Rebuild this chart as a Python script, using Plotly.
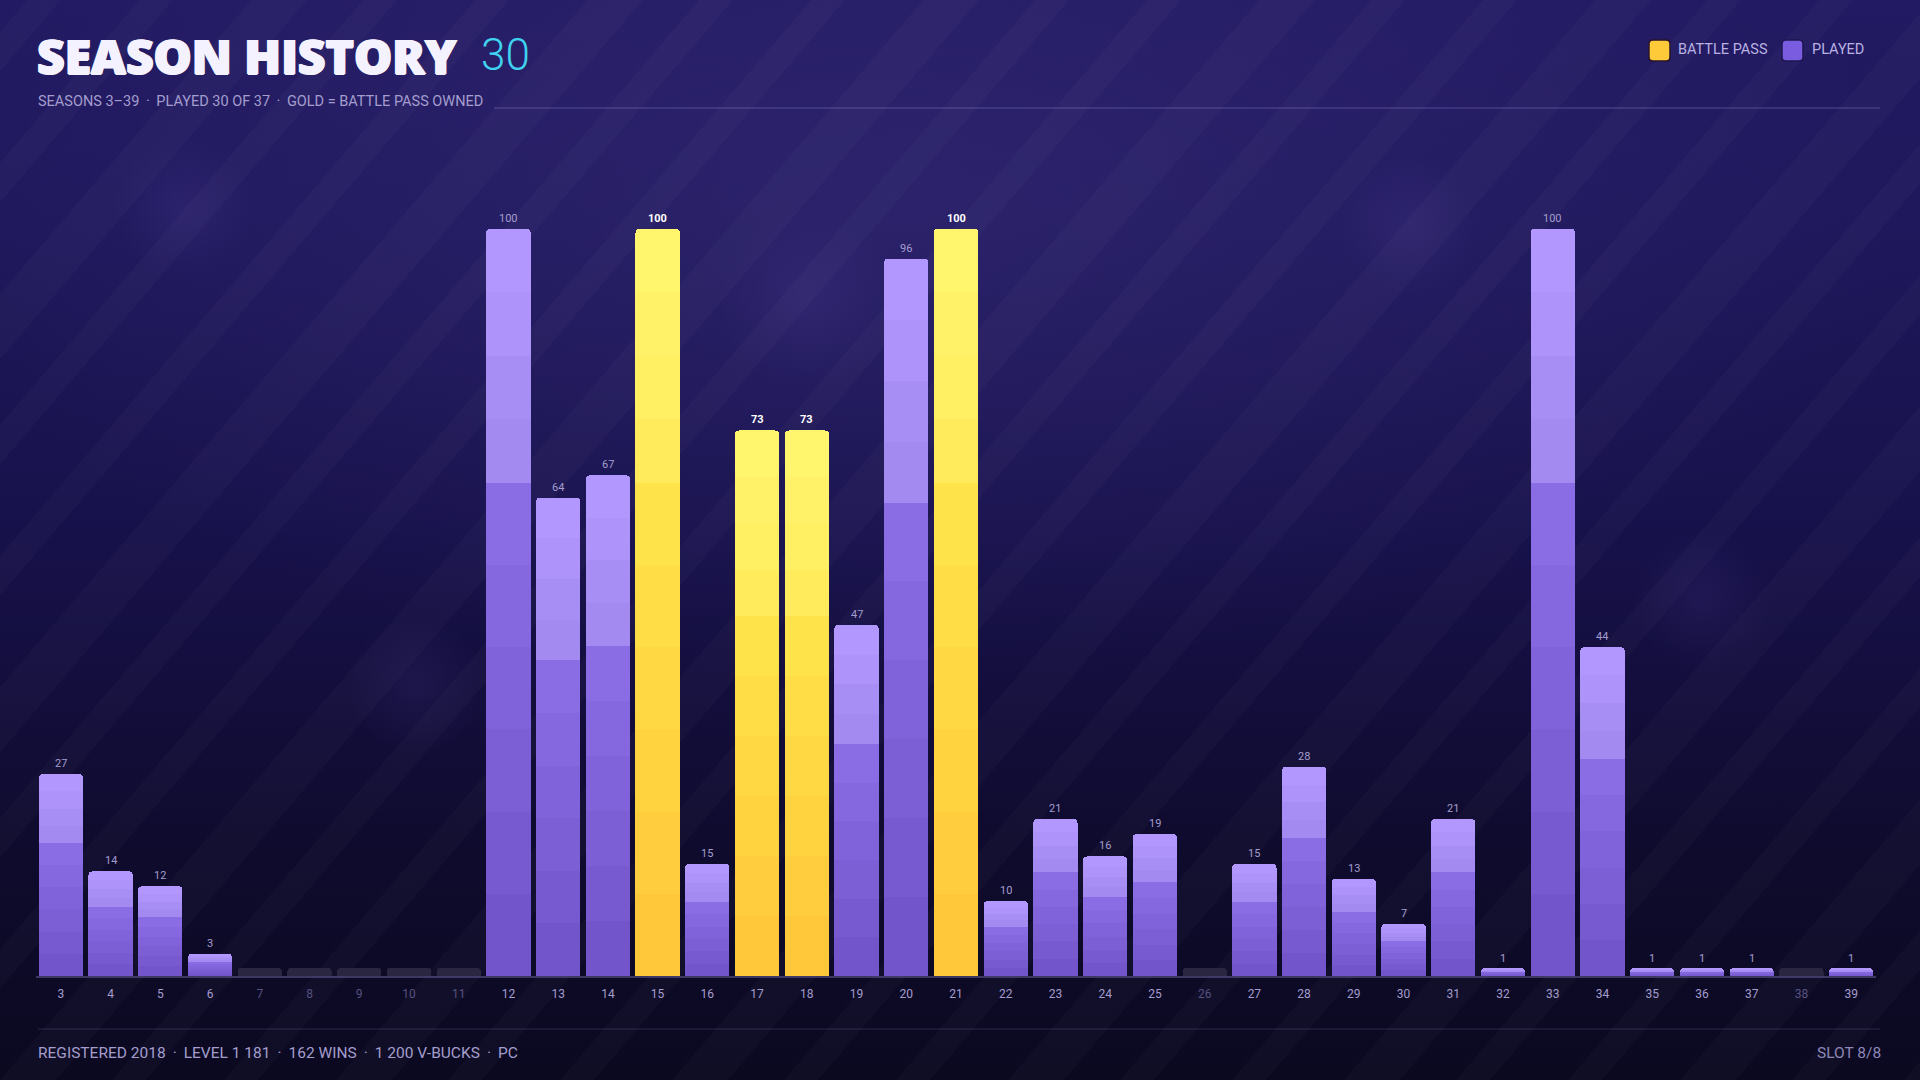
import math
import plotly.graph_objects as go

# ---------------- data ----------------
seasons = list(range(3, 40))
levels = [27, 14, 12, 3, 0, 0, 0, 0, 0, 100, 64, 67, 100, 15, 73, 73, 47, 96, 100,
          10, 21, 16, 19, 0, 15, 28, 13, 7, 21, 1, 100, 44, 1, 1, 1, 0, 1]
battle_pass_seasons = [15, 17, 18, 21]

SEP = "\u2009 · \u2009"
title_text = "SEASON HISTORY"
title_count = "30"
subtitle_text = SEP.join(["SEASONS 3–39", "PLAYED 30 OF 37", "GOLD = BATTLE PASS OWNED"])
footer_left = SEP.join(["REGISTERED 2018", "LEVEL 1 181", "162 WINS", "1 200 V-BUCKS", "PC"])
footer_right = "SLOT 8/8"
legend_labels = ["BATTLE PASS", "PLAYED"]

# ---------------- style ----------------
W, H = 1920, 1080
COND = "Roboto, 'Liberation Sans', sans-serif"
HEAVY = "'Open Sans', Lato, sans-serif"
LAV = "#a49dce"
DIM = "#575180"
STUB = 1.1  # visual height of an unplayed-season stub


def lerp(c1, c2, t):
    a = [int(c1[i:i + 2], 16) for i in (1, 3, 5)]
    b = [int(c2[i:i + 2], 16) for i in (1, 3, 5)]
    return "#" + "".join(f"{round(a[i] + (b[i] - a[i]) * t):02x}" for i in range(3))


# gradient segments: (fraction of bar height, colour) from bottom to top
seg_frac = [0.11] * 6 + [0.085] * 4
purple_cols = [lerp("#7255cb", "#8a6de5", i / 5) for i in range(6)] + \
              [lerp("#a28af0", "#b297ff", i / 3) for i in range(4)]
gold_cols = [lerp("#ffc73a", "#ffe34a", i / 5) for i in range(6)] + \
            [lerp("#ffeb5c", "#fff66e", i / 3) for i in range(4)]


def px(x):
    return x / W


def py(y):
    return 1 - y / H


def rounded_rect(x0, y0, x1, y1, r):
    # pixel coords (top-left origin) -> paper-space SVG path with rounded corners
    X = lambda v: f"{px(v):.5f}"
    Y = lambda v: f"{py(v):.5f}"
    return (f"M {X(x0 + r)},{Y(y0)} L {X(x1 - r)},{Y(y0)} Q {X(x1)},{Y(y0)} {X(x1)},{Y(y0 + r)} "
            f"L {X(x1)},{Y(y1 - r)} Q {X(x1)},{Y(y1)} {X(x1 - r)},{Y(y1)} "
            f"L {X(x0 + r)},{Y(y1)} Q {X(x0)},{Y(y1)} {X(x0)},{Y(y1 - r)} "
            f"L {X(x0)},{Y(y0 + r)} Q {X(x0)},{Y(y0)} {X(x0 + r)},{Y(y0)} Z")


fig = go.Figure()

# ---------------- background (subplot xy, full canvas) ----------------
bg = dict(xaxis="x", yaxis="y", hoverinfo="skip", showlegend=False, mode="lines",
          line=dict(width=0), fill="toself")
fig.add_trace(go.Scatter(x=[0, W, W, 0, 0], y=[0, 0, H, H, 0],
                         fillgradient=dict(type="vertical",
                                           colorscale=[[0, "#0b0920"], [0.22, "#0f0b2e"],
                                                       [0.5, "#17114a"], [0.8, "#1f185c"],
                                                       [1, "#221a62"]]),
                         **bg))


def ellipse(cx, cy, rx, ry, n=72):
    xs = [cx + rx * math.cos(2 * math.pi * i / n) for i in range(n + 1)]
    ys = [cy + ry * math.sin(2 * math.pi * i / n) for i in range(n + 1)]
    return xs, ys


ex, ey = ellipse(900, H - 200, 1000, 480)
fig.add_trace(go.Scatter(x=ex, y=ey,
                         fillgradient=dict(type="radial",
                                           colorscale=[[0, "rgba(62,50,130,0.40)"],
                                                       [1, "rgba(62,50,130,0)"]]),
                         **bg))

# diagonal stripes
sx, sy = [], []
slope = 1.17
for k in range(-12, 22):
    o = k * 112
    wdt = 34 if k % 3 else 56
    sx += [o, o + wdt, o + wdt + H / slope, o + H / slope, o, None]
    sy += [0, 0, H, H, 0, None]
fig.add_trace(go.Scatter(x=sx, y=sy, fillcolor="rgba(255,255,255,0.024)", **bg))

# soft bokeh dots
for cx, cy, r in [(184, 208, 70), (808, 300, 90), (1408, 226, 70), (1702, 600, 70), (416, 686, 70)]:
    bx, by = ellipse(cx, H - cy, r, r, 48)
    fig.add_trace(go.Scatter(x=bx, y=by,
                             fillgradient=dict(type="radial",
                                               colorscale=[[0, "rgba(120,100,210,0.10)"],
                                                           [1, "rgba(120,100,210,0)"]]),
                             **bg))

# ---------------- bars (subplot x2y2) ----------------
is_bp = [s in battle_pass_seasons for s in seasons]
for i, f in enumerate(seg_frac):
    fig.add_trace(go.Bar(
        x=seasons,
        y=[v * f if (v > 0 and not b) else None for v, b in zip(levels, is_bp)],
        xaxis="x2", yaxis="y2", marker=dict(color=purple_cols[i], line=dict(width=0)),
        showlegend=False, hoverinfo="skip"))
for i, f in enumerate(seg_frac):
    fig.add_trace(go.Bar(
        x=seasons,
        y=[v * f if (v > 0 and b) else None for v, b in zip(levels, is_bp)],
        xaxis="x2", yaxis="y2", marker=dict(color=gold_cols[i], line=dict(width=0)),
        showlegend=False, hoverinfo="skip"))
fig.add_trace(go.Bar(
    x=seasons, y=[STUB if v == 0 else None for v in levels],
    xaxis="x2", yaxis="y2", marker=dict(color="#2a2642", line=dict(width=0)),
    showlegend=False, hoverinfo="skip"))

# value labels
annotations = []
for s, v, b in zip(seasons, levels, is_bp):
    if v <= 0:
        continue
    annotations.append(dict(
        x=s, y=v, xref="x2", yref="y2", text=str(v), showarrow=False,
        yanchor="bottom", yshift=2,
        font=dict(family="Roboto, sans-serif", size=11, color="#ffffff", weight=700) if b
        else dict(family=COND, size=11, color=LAV)))

ticktext = [f"<span style='color:{LAV if v > 0 else DIM}'>{s}</span>"
            for s, v in zip(seasons, levels)]

# ---------------- header / footer ----------------
annotations += [
    dict(x=px(35), y=py(56), xref="paper", yref="paper", xanchor="left", yanchor="middle",
         text=title_text, showarrow=False,
         font=dict(family=HEAVY, size=48, color="#f4f2ff", weight=800,
                   shadow="1px 0 0 #f4f2ff, -1px 0 0 #f4f2ff, 0 1px 0 #f4f2ff")),
    dict(x=px(479), y=py(55), xref="paper", yref="paper", xanchor="left", yanchor="middle",
         text=title_count, showarrow=False,
         font=dict(family=COND, size=44, color="#3fd3f0", weight=300)),
    dict(x=px(36), y=py(101), xref="paper", yref="paper", xanchor="left", yanchor="middle",
         text=subtitle_text, showarrow=False,
         font=dict(family=COND, size=14.5, color=LAV)),
    dict(x=px(1676), y=py(50), xref="paper", yref="paper", xanchor="left", yanchor="middle",
         text=legend_labels[0], showarrow=False,
         font=dict(family=COND, size=14.5, color="#b9b2e2")),
    dict(x=px(1810), y=py(50), xref="paper", yref="paper", xanchor="left", yanchor="middle",
         text=legend_labels[1], showarrow=False,
         font=dict(family=COND, size=14.5, color="#b9b2e2")),
    dict(x=px(36), y=py(1053), xref="paper", yref="paper", xanchor="left", yanchor="middle",
         text=footer_left, showarrow=False,
         font=dict(family=COND, size=15.5, color=LAV)),
    dict(x=px(1883), y=py(1053), xref="paper", yref="paper", xanchor="right", yanchor="middle",
         text=footer_right, showarrow=False,
         font=dict(family=COND, size=15.5, color="#8e87b8")),
]

shapes = [
    dict(type="line", xref="paper", yref="paper", x0=px(494), x1=px(1880), y0=py(108), y1=py(108),
         line=dict(color="rgba(150,140,220,0.28)", width=1.5)),
    dict(type="line", xref="paper", yref="paper", x0=px(38), x1=px(1880), y0=py(1029), y1=py(1029),
         line=dict(color="rgba(150,140,220,0.16)", width=1.5)),
    dict(type="path", xref="paper", yref="paper", path=rounded_rect(1649, 40, 1670, 61, 4),
         fillcolor="#ffca3a", line=dict(color="#2a1428", width=1.5)),
    dict(type="path", xref="paper", yref="paper", path=rounded_rect(1782, 40, 1803, 61, 4),
         fillcolor="#7a5ce0", line=dict(color="#1e1650", width=1.5)),
]

fig.update_layout(
    width=W, height=H, margin=dict(l=0, r=0, t=0, b=0),
    paper_bgcolor="#140f3c", plot_bgcolor="rgba(0,0,0,0)",
    barmode="stack", bargap=0.11, barcornerradius=4,
    showlegend=False, hovermode=False,
    annotations=annotations, shapes=shapes,
    xaxis=dict(domain=[0, 1], range=[0, W], visible=False, fixedrange=True),
    yaxis=dict(domain=[0, 1], range=[0, H], visible=False, fixedrange=True),
    xaxis2=dict(domain=[px(36), px(1876)], range=[2.5, 39.5], anchor="y2",
                tickmode="array", tickvals=seasons, ticktext=ticktext,
                tickfont=dict(family=COND, size=12, color=LAV),
                showline=True, linecolor="rgba(150,140,215,0.35)", linewidth=1.5,
                ticks="", ticklabelstandoff=6, showgrid=False, zeroline=False, fixedrange=True),
    yaxis2=dict(domain=[py(976), py(154)], range=[0, 110], anchor="x2",
                visible=False, fixedrange=True),
)

fig.write_html("out.html", config={"displayModeBar": False},
               post_script="document.body.style.margin='0';document.body.style.overflow='hidden';")
